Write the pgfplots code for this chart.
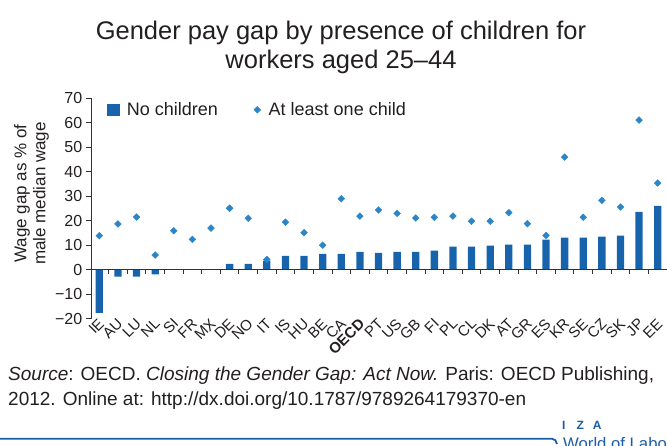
\documentclass[border=0pt]{standalone}
\usepackage{fontspec}
\setmainfont{Liberation Sans}
\usepackage{pgfplots}
\pgfplotsset{compat=1.18}
\definecolor{barblue}{HTML}{1764AD}
\definecolor{dotblue}{HTML}{2B85C7}
\definecolor{txt}{HTML}{231F20}
\definecolor{axisgray}{HTML}{333333}
\definecolor{izablue}{HTML}{1B5EA5}
\pgfplotsset{onemark/.style={legend image code/.code={\draw[##1] plot coordinates {(6pt,0pt)};}}}

\begin{document}
\begin{tikzpicture}[x=1pt,y=1pt]
\useasboundingbox (0,0) rectangle (667,446);

% title
\node[font=\fontsize{25.5}{29}\selectfont, align=center, text=txt] at (341,399)
  {Gender pay gap by presence of children for\\workers aged 25–44};

% y label
\node[rotate=90, align=center, text=txt, font=\fontsize{17}{19}\selectfont] at (31.5,252.5)
  {Wage gap as \% of\\male median wage};

\begin{axis}[
    at={(91.7pt,127.3pt)}, anchor=south west,
    scale only axis,
    width=575.3pt, height=220.4pt,
    xmin=-0.41, xmax=30.5,
    ymin=-20, ymax=70,
    axis lines=left,
    axis line style={-, axisgray, line width=0.9pt},
    x axis line style={draw=none},
    xtick={0,...,30},
    xticklabels={IE,AU,LU,NL,SI,FR,MX,DE,NO,IT,IS,HU,BE,CA,\textbf{OECD},PT,US,GB,FI,PL,CL,DK,AT,GR,ES,KR,SE,CZ,SK,JP,EE},
    x tick label style={rotate=45, anchor=east, font=\fontsize{15}{15}\selectfont, text=txt, xshift=5pt, yshift=1pt, inner sep=1pt},
    x tick style={draw=none},
    ytick={-20,-10,0,10,20,30,40,50,60,70},
    yticklabels={−20,−10,0,10,20,30,40,50,60,70},
    y tick label style={font=\fontsize{16}{16}\selectfont, text=txt},
    tick align=outside,
    major tick length=6pt,
    y tick style={axisgray, line width=0.9pt},
    clip=false,
    legend style={draw=none, fill=none, at={(axis cs:0.25,70)}, anchor=north west,
      font=\fontsize{18}{20}\selectfont, text=txt,
      /tikz/every even column/.append style={column sep=34pt}},
    legend columns=2,
    legend cell align=left,
]
% No children
\addplot[ybar, bar width=7.3pt, draw=none, fill=barblue, forget plot] coordinates {
  (0,-17.6) (1,-2.8) (2,-2.8) (3,-1.9) (4,0) (5,0) (6,0) (7,2.4) (8,2.4) (9,3.7)
  (10,5.7) (11,5.7) (12,6.5) (13,6.5) (14,7.3) (15,6.9) (16,7.3) (17,7.3) (18,7.8) (19,9.4)
  (20,9.4) (21,9.8) (22,10.2) (23,10.2) (24,12.3) (25,13.1) (26,13.1) (27,13.5) (28,13.9) (29,23.6)
  (30,26.1)
};
% At least one child
\addplot[only marks, mark=square*, mark size=2.4pt,
  mark options={rotate=45, fill=dotblue, draw=dotblue}, forget plot] coordinates {
  (0,13.9) (1,18.7) (2,21.5) (3,6.0) (4,15.9) (5,12.4) (6,17.0) (7,25.1) (8,21.0) (9,4.2)
  (10,19.4) (11,15.1) (12,10.0) (13,29.0) (14,21.9) (15,24.4) (16,23.0) (17,21.1) (18,21.4) (19,21.9)
  (20,19.8) (21,19.8) (22,23.3) (23,18.8) (24,14.0) (25,46.0) (26,21.4) (27,28.3) (28,25.6) (29,61.1)
  (30,35.4)
};

\addlegendimage{only marks, mark=square*, mark size=5.85pt, barblue, onemark}
\addlegendentry{\hspace{6pt}No children}
\addlegendimage{only marks, mark=square*, mark size=2.4pt, mark options={rotate=45, fill=dotblue, draw=dotblue}, onemark}
\addlegendentry{\hspace{6pt}At least one child}

% zero line and category ticks
\draw[axisgray, line width=1.2pt] (axis cs:-0.41,0) -- (axis cs:30.5,0);
\pgfplotsinvokeforeach{0,...,29}{
  \draw[axisgray, line width=0.9pt] (axis cs:#1.5,0) -- ([yshift=-4pt]axis cs:#1.5,0);
}
\end{axis}

% source
\node[anchor=base west, text=txt, font=\fontsize{19}{25}\selectfont, inner sep=0pt] at (8,65)
  {\textit{Source}: OECD. \textit{Closing the Gender Gap: Act Now.} Paris: OECD Publishing,};
\node[anchor=base west, text=txt, font=\fontsize{19}{25}\selectfont, inner sep=0pt] at (8,40)
  {2012. Online at: http://dx.doi.org/10.1787/9789264179370-en};

% footer
\draw[izablue, line width=1.8pt] (0,7.3) -- (552,7.3) to[out=0,in=100] (557,2);
\node[anchor=base west, text=izablue, font=\bfseries\fontsize{12}{12}\selectfont, inner sep=0pt] at (562,16)
  {I\hspace{11pt}Z\hspace{9pt}A};
\node[anchor=base west, text=izablue, font=\fontsize{16.7}{17}\selectfont, inner sep=0pt] at (563,-4)
  {World of Labor};
\end{tikzpicture}
\end{document}
